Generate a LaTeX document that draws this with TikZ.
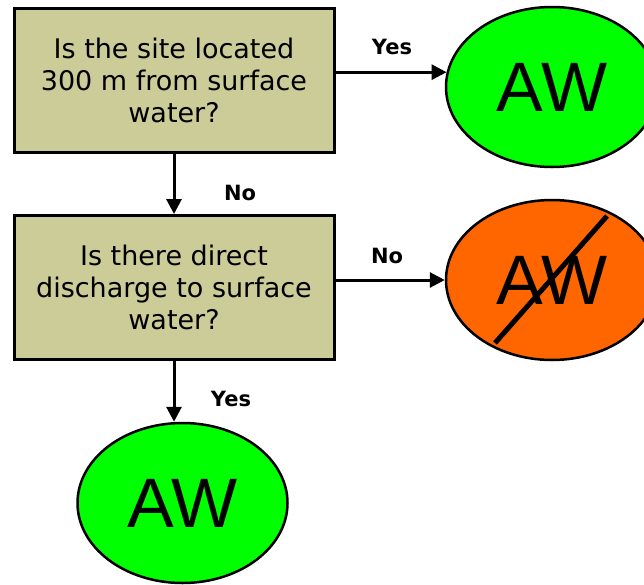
\documentclass[tikz,border=0pt]{standalone}
\usepackage{fontspec}
\setmainfont{DejaVu Sans}
\newfontfamily\awfont{Liberation Sans}
\usetikzlibrary{shapes.geometric,arrows.meta}
\definecolor{khaki}{HTML}{CCCC99}
\definecolor{brightgreen}{HTML}{00FF00}
\definecolor{orangered}{HTML}{FF6600}
\begin{document}
\begin{tikzpicture}[x=1pt,y=-1pt,
  qbox/.style={draw=black,line width=3pt,fill=khaki,minimum width=320pt,minimum height=144pt,inner sep=0pt,align=center,font=\fontsize{27}{32}\selectfont},
  aw/.style={draw=black,line width=2.5pt,ellipse,inner sep=0pt,font=\awfont\fontsize{70}{70}\selectfont},
  arr/.style={line width=3pt,-{Triangle[length=15pt,width=15pt]}},
  lbl/.style={font=\bfseries\fontsize{21}{24}\selectfont,inner sep=0pt}]
\useasboundingbox (0,0) rectangle (644,584);
\node[qbox] (b1) at (174,80) {Is the site located\\300 m from surface\\water?};
\node[qbox] (b2) at (174,287.5) {Is there direct\\discharge to surface\\water?};
\node[aw,fill=brightgreen,minimum width=212pt,minimum height=160pt] (e1) at (552,87) {AW};
\node[aw,fill=orangered,minimum width=212pt,minimum height=160pt] (e2) at (552,280) {AW};
\node[aw,fill=brightgreen,minimum width=210pt,minimum height=160pt] (e3) at (182.5,503) {AW};
\coordinate (s1) at ([xshift=-57pt,yshift=-63pt]e2.center);
\coordinate (s2) at ([xshift=55pt,yshift=64pt]e2.center);
\draw[line width=5pt] (s1) -- (s2);
\draw[arr] (b1.east |- e1.172) -- (e1.172);
\draw[arr] (b2.east |- e2.west) -- (e2.west);
\draw[arr] (b1.south) -- (b2.north);
\draw[arr] (b2.south) -- (b2.south |- e3.north);
\node[lbl] (l1) at (392,47) {Yes};
\node[lbl] (l2) at (240,193) {No};
\node[lbl] (l3) at (387,256) {No};
\node[lbl] (l4) at (231,399) {Yes};
\end{tikzpicture}
\end{document}
